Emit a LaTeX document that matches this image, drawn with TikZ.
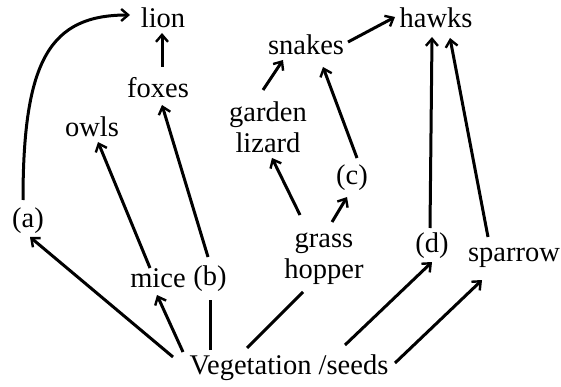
\documentclass[tikz,border=0pt]{standalone}
\usepackage{fontspec}
\setmainfont{Liberation Serif}
\usetikzlibrary{arrows.meta}
\begin{document}
\begin{tikzpicture}[x=1pt,y=-1pt,
  lbl/.style={inner sep=3pt, font=\fontsize{28.5}{31}\selectfont, align=center},
  arr/.style={line width=3pt, -{Straight Barb[length=7pt,width=12pt,line width=2.4pt]}},
  ln/.style={line width=3pt}]
\useasboundingbox (0,0) rectangle (561,387);
\node[lbl] (lion) at (163,18) {lion};
\node[lbl] (foxes) at (158,88) {foxes};
\node[lbl] (owls) at (92,127) {owls};
\node[lbl] (a) at (28,221) {(a)};
\node[lbl] (mice) at (158,278) {mice};
\node[lbl] (b) at (210,279) {(b)};
\node[lbl] (veg) at (289,368) {Vegetation /seeds};
\node[lbl] (snakes) at (306,45) {snakes};
\node[lbl] (hawks) at (436,18) {hawks};
\node[lbl] (lizard) at (268,127) {garden\\lizard};
\node[lbl] (c) at (352,178) {(c)};
\node[lbl] (grass) at (324,259) {grass\\hopper};
\node[lbl] (d) at (432,246) {(d)};
\node[lbl] (sparrow) at (514,258) {sparrow};

\draw[arr] ([shift={(-5,-21)}]a.center) .. controls +(0,-140) and +(-80,0) .. ([shift={(-33,-3)}]lion.center);
\draw[arr] ([shift={(4,-21)}]foxes.center) -- ([shift={(-1,15)}]lion.center);
\draw[arr] ([shift={(-8,-10)}]mice.center) -- ([shift={(6,15)}]owls.center);
\draw[arr] ([shift={(-2,-22)}]b.center) -- ([shift={(4,17)}]foxes.center);
\draw[arr] ([shift={(-116,-11)}]veg.center) -- ([shift={(2,16)}]a.center);
\draw[arr] ([shift={(-106,-16)}]veg.center) -- ([shift={(-1,17)}]mice.center);
\draw[ln] ([shift={(-79,-18)}]veg.center) -- ([shift={(0,21)}]b.center);
\draw[ln] ([shift={(-42,-20)}]veg.center) -- ([shift={(-21,33)}]grass.center);
\draw[arr] ([shift={(-24,-44)}]grass.center) -- ([shift={(4,31)}]lizard.center);
\draw[arr] ([shift={(8,-37)}]grass.center) -- ([shift={(-5,19)}]c.center);
\draw[arr] ([shift={(5,-20)}]c.center) -- ([shift={(17,22)}]snakes.center);
\draw[arr] ([shift={(-5,-37)}]lizard.center) -- ([shift={(-23,15)}]snakes.center);
\draw[arr] ([shift={(42,-3)}]snakes.center) -- ([shift={(-41,-1)}]hawks.center);
\draw[arr] ([shift={(-2,-18)}]d.center) -- ([shift={(-4,19)}]hawks.center);
\draw[arr] ([shift={(-26,-21)}]sparrow.center) -- ([shift={(14,20)}]hawks.center);
\draw[arr] ([shift={(56,-23)}]veg.center) -- ([shift={(0,16)}]d.center);
\draw[arr] ([shift={(106,-5)}]veg.center) -- ([shift={(-32,22)}]sparrow.center);
\end{tikzpicture}
\end{document}
